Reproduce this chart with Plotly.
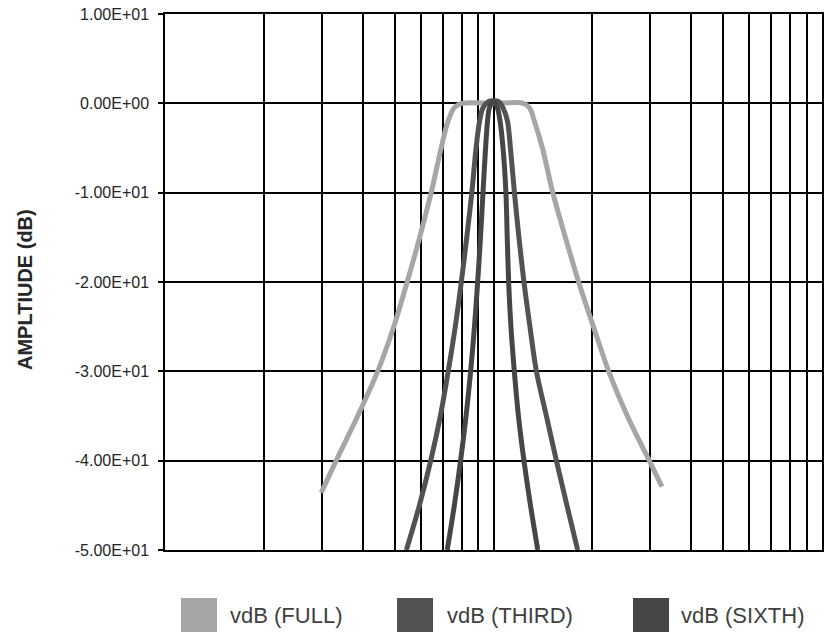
import plotly.graph_objects as go

# ---------------- data ----------------
freq_full = [299, 332, 386, 444, 497, 546, 596, 646, 693, 727, 759, 799, 1000,
             1234, 1287, 1332, 1409, 1515, 1655, 1816, 2015, 2242, 2555, 2980, 3256]
db_full = [-43.6, -40.0, -35.0, -30.0, -25.0, -20.0, -15.0, -10.0, -5.0, -2.0, -0.5, 0.0, 0.0,
           0.0, -0.5, -2.0, -5.0, -10.0, -15.0, -20.0, -25.0, -30.0, -35.0, -40.0, -42.9]

freq_third = [543, 595, 644, 689, 728, 765, 798, 829, 859, 885, 907, 929, 966, 1000,
              1036, 1069, 1103, 1126, 1158, 1195, 1238, 1291, 1351, 1449, 1554, 1673, 1804]
db_third = [-50.0, -45.0, -40.0, -35.0, -30.0, -25.0, -20.0, -15.0, -10.0, -5.0, -2.0, -0.5, 0.2, 0.3,
            0.2, -0.5, -2.0, -5.0, -10.0, -15.0, -20.0, -25.0, -30.0, -35.0, -40.0, -45.0, -50.0]

freq_sixth = [723, 760, 794, 825, 852, 875, 895, 913, 929, 946, 959, 972, 1000,
              1028, 1047, 1069, 1091, 1101, 1112, 1130, 1157, 1191, 1238, 1296, 1364]
db_sixth = [-50.0, -45.0, -40.0, -35.0, -30.0, -25.0, -20.0, -15.0, -10.0, -5.0, -2.0, -0.5, 0.3,
            -0.5, -2.0, -5.0, -10.0, -15.0, -20.0, -25.0, -30.0, -35.0, -40.0, -45.0, -50.0]

series_names = ["vdB (FULL)", "vdB (THIRD)", "vdB (SIXTH)"]

y_tick_vals = [-50, -40, -30, -20, -10, 0, 10]
y_tick_text = ["-5.00E+01", "-4.00E+01", "-3.00E+01", "-2.00E+01",
               "-1.00E+01", "0.00E+00", "1.00E+01"]

x_grid_vals = [100, 200, 300, 400, 500, 600, 700, 800, 900,
               1000, 2000, 3000, 4000, 5000, 6000, 7000, 8000, 9000, 10000]

y_title = "AMPLTIUDE (dB)"

# ---------------- styles ----------------
colors = ["#a6a6a6", "#525252", "#464646"]
FONT = "Liberation Sans, Arial, sans-serif"

W, H = 833, 633
L, R, T, B = 165, 822, 14, 550  # plot area in pixels


def px_x(x):
    return (x - L) / (R - L)


def px_y(y):
    return (B - y) / (B - T)


fig = go.Figure()
for fx, fy, name, col in zip([freq_full, freq_third, freq_sixth],
                             [db_full, db_third, db_sixth],
                             series_names, colors):
    fig.add_trace(go.Scatter(
        x=fx, y=fy, name=name, mode="lines",
        line=dict(color=col, width=5, shape="spline", smoothing=0.9),
        showlegend=False, hoverinfo="x+y+name",
    ))

# manual legend (large square swatches as in the reference)
legend_boxes = [(181, 217), (397, 433), (633, 669)]
legend_text_x = [228, 445, 679]
shapes = []
annotations = []
for (x0, x1), tx, name, col in zip(legend_boxes, legend_text_x, series_names, colors):
    shapes.append(dict(type="rect", xref="paper", yref="paper",
                       x0=px_x(x0), x1=px_x(x1), y0=px_y(632), y1=px_y(598),
                       fillcolor=col, line=dict(width=0)))
    annotations.append(dict(xref="paper", yref="paper", x=px_x(tx), y=px_y(615),
                            xanchor="left", yanchor="middle", showarrow=False,
                            text=name, font=dict(family=FONT, size=22, color="#404040")))

annotations.append(dict(xref="paper", yref="paper", x=px_x(25), y=px_y(290),
                        xanchor="center", yanchor="middle", showarrow=False,
                        text="<b>" + y_title + "</b>", textangle=-90,
                        font=dict(family=FONT, size=20, color="#262626")))

fig.update_layout(
    width=W, height=H,
    margin=dict(l=L, r=W - R, t=T, b=H - B, autoexpand=False),
    paper_bgcolor="white", plot_bgcolor="white",
    font=dict(family=FONT, color="#262626"),
    showlegend=False,
    shapes=shapes, annotations=annotations,
    xaxis=dict(type="log", range=[2, 4], tickvals=x_grid_vals, showticklabels=False,
               ticks="", showgrid=True, gridcolor="black", gridwidth=1.5,
               showline=True, linecolor="black", linewidth=1.5, mirror=True,
               zeroline=False),
    yaxis=dict(range=[-50, 10], tickvals=y_tick_vals, ticktext=y_tick_text,
               ticks="outside", ticklen=5, tickcolor="black", tickwidth=1.5,
               tickfont=dict(family=FONT, size=16, color="#262626"),
               showgrid=True, gridcolor="black", gridwidth=1.5,
               showline=True, linecolor="black", linewidth=1.5, mirror=True,
               zeroline=False, ticklabelstandoff=6),
)

fig.write_html("out.html", config={"displayModeBar": False},
               post_script="document.body.style.margin='0';document.body.style.padding='0';")
